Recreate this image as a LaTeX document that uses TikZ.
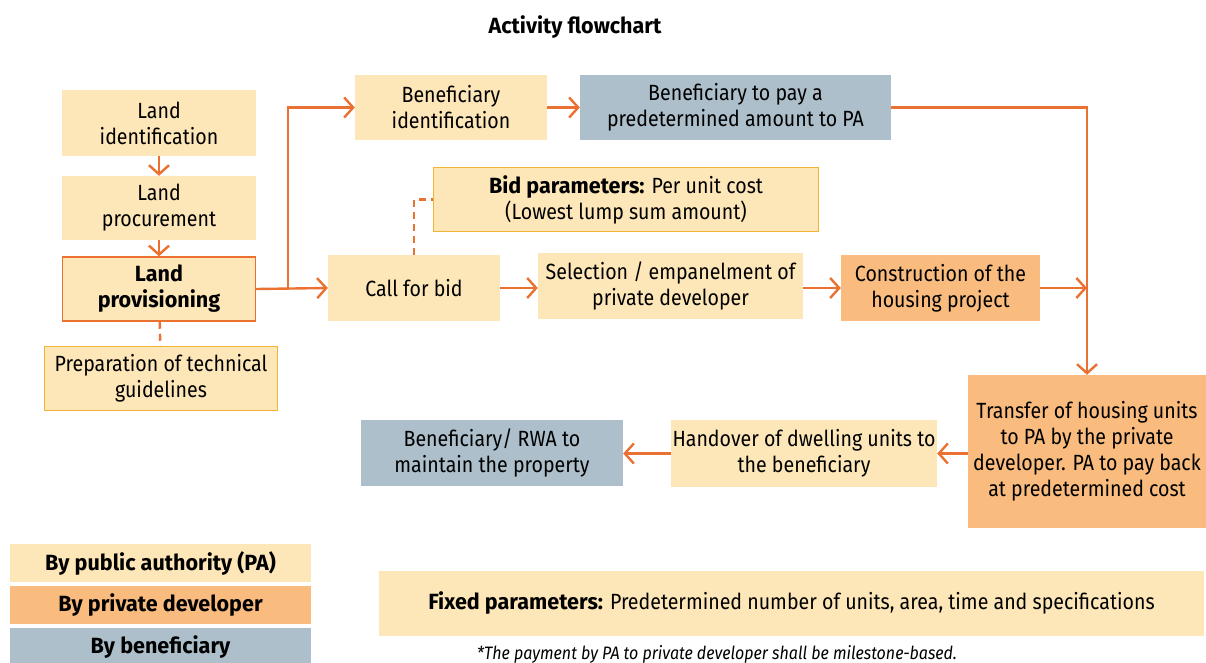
\documentclass[tikz,border=0pt]{standalone}
\usepackage{fontspec}
\setmainfont{Fira Sans}[FakeStretch=0.89, BoldFeatures={FakeStretch=0.98}]
\usetikzlibrary{arrows.meta}
\definecolor{palight}{HTML}{FDE7B9}
\definecolor{devorange}{HTML}{F9BC7E}
\definecolor{benblue}{HTML}{ACBFCA}
\definecolor{flowline}{HTML}{EA7131}
\definecolor{noteline}{HTML}{F1B434}
\tikzset{
	box/.style = {inner sep = 0pt, align = center, font = \fontsize{22}{26}\selectfont},
	pa/.style = {box, fill = palight},
	dev/.style = {box, fill = devorange},
	ben/.style = {box, fill = benblue},
	key/.style = {minimum width = 301pt, minimum height = 38pt, font = \fontsize{22}{24}\selectfont\bfseries},
	flow/.style = {flowline, line width = 2.4pt, -{Straight Barb[length = 9pt, width = 20pt, line width = 2.4pt]}},
	dashline/.style = {flowline, line width = 2.4pt, dash pattern = on 7pt off 5pt},
}
\begin{document}
\begin{tikzpicture} [x = 1pt, y = -1pt]
	\useasboundingbox (0,0) rectangle (1206,663);
	\node [font = \fontsize{22}{26}\selectfont\bfseries] (title) at (575,27) {Activity flowchart};
	% land column
	\node [pa, minimum width = 194pt, minimum height = 66pt] (landid) at (159,123) {Land\\identification};
	\node [pa, minimum width = 194pt, minimum height = 64pt] (landpro) at (159,208) {Land\\procurement};
	\node [pa, draw = flowline, line width = 1.5pt, minimum width = 193pt, minimum height = 64pt, font = \fontsize{22}{26}\selectfont\bfseries] (landprov) at (159,289) {Land\\provisioning};
	\node [pa, draw = noteline, line width = 1.5pt, minimum width = 233pt, minimum height = 64pt] (guide) at (161,378.5) {Preparation of technical\\guidelines};
	% upper row
	\node [pa, minimum width = 192pt, minimum height = 65pt] (benid) at (451,107.5) {Beneficiary\\identification};
	\node [ben, minimum width = 311pt, minimum height = 65pt] (pay) at (735.5,107.5) {Beneficiary to pay a\\predetermined amount to PA};
	\node [pa, draw = noteline, line width = 1.5pt, minimum width = 385pt, minimum height = 64pt] (bid) at (626,199.5) {\textbf{Bid parameters:} Per unit cost\\(Lowest lump sum amount)};
	% middle row
	\node [pa, minimum width = 172pt, minimum height = 66pt] (call) at (414,288) {Call for bid};
	\node [pa, minimum width = 265pt, minimum height = 66pt] (select) at (670.5,286) {Selection / empanelment of\\private developer};
	\node [dev, minimum width = 199pt, minimum height = 66pt] (constr) at (940.5,288) {Construction of the\\housing project};
	% lower row
	\node [dev, minimum width = 238pt, minimum height = 153pt] (transfer) at (1087,451.5) {Transfer of housing units\\to PA by the private\\developer. PA to pay back\\at predetermined cost};
	\node [pa, minimum width = 266pt, minimum height = 67pt] (handover) at (804,453.5) {Handover of dwelling units to\\the beneficiary};
	\node [ben, minimum width = 262pt, minimum height = 66pt] (maintain) at (492,453) {Beneficiary/ RWA to\\maintain the property};
	% connectors
	\draw [flow] (landid) -- (landpro);
	\draw [flow] (landpro) -- (landprov);
	\draw [dashline] (landprov) -- (guide);
	\draw [flow] (landprov.east) -- ++(32,0) |- (benid.west);
	\draw [flow] (landprov.east) -- (call.west);
	\draw [flow] (benid) -- (pay);
	\draw [flow] (pay.east) -| (transfer.north);
	\draw [dashline] (call.north) |- (bid.west);
	\draw [flow] (call.east) -- (call.east -| select.west);
	\draw [flow] (select.east |- constr.west) -- (constr.west);
	\draw [flow] (constr.east) -- (constr.east -| transfer.north);
	\draw [flow] (transfer.west |- handover.east) -- (handover.east);
	\draw [flow] (handover.west) -- (handover.west -| maintain.east);
	% legend
	\node [pa, key] (keypa) at (160.5,563) {By public authority (PA)};
	\node [dev, key] (keydev) at (160.5,605) {By private developer};
	\node [ben, key] (keyben) at (160.5,647) {By beneficiary};
	\node [pa, minimum width = 825pt, minimum height = 65pt] (fixed) at (791.5,603.5) {\textbf{Fixed parameters:} Predetermined number of units, area, time and specifications};
	\node [font = \fontsize{18}{20}\selectfont\itshape] (note) at (717,654) {*The payment by PA to private developer shall be milestone-based.};
\end{tikzpicture}
\end{document}
